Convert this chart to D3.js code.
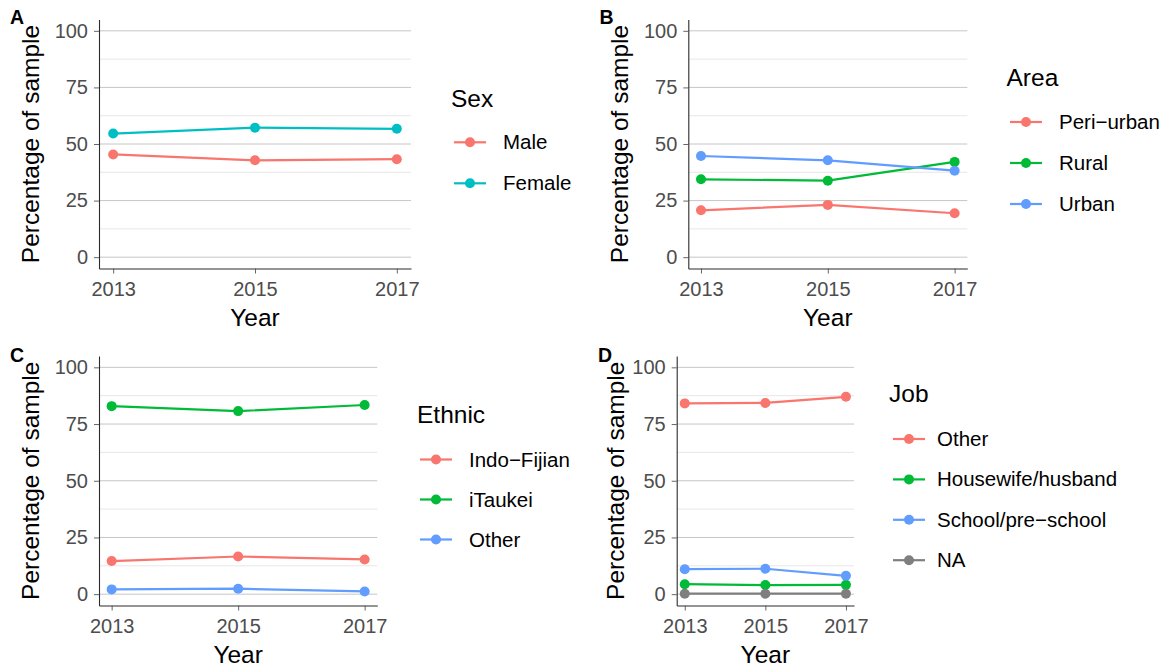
<!DOCTYPE html>
<html>
<head>
<meta charset="utf-8">
<script src="https://cdn.jsdelivr.net/npm/d3@7/dist/d3.min.js"></script>
<style>
  html, body { margin: 0; padding: 0; background: #ffffff; }
  svg { display: block; font-family: "Liberation Sans", Arial, Helvetica, sans-serif; }
</style>
</head>
<body>
<svg id="chart" width="1164" height="668"></svg>
<script>
// Survey years and axis ticks
const years = [2013, 2015, 2017];
const yTicks = [0, 25, 50, 75, 100];
const yMinor = [12.5, 37.5, 62.5, 87.5];

// A: sex
const sexLevels = ["Male", "Female"];
const sexMale   = [45.4, 42.8, 43.3];
const sexFemale = [54.6, 57.2, 56.7];

// B: area
const areaLevels    = ["Peri\u2212urban", "Rural", "Urban"];
const areaPeriUrban = [20.7, 23.1, 19.4];
const areaRural     = [34.4, 33.8, 42.1];
const areaUrban     = [44.7, 42.8, 38.2];

// C: ethnicity
const ethnicLevels     = ["Indo\u2212Fijian", "iTaukei", "Other"];
const ethnicIndoFijian = [14.6, 16.6, 15.3];
const ethnicITaukei    = [82.9, 80.7, 83.4];
const ethnicOther      = [2.1, 2.4, 1.2];

// D: job
const jobLevels    = ["Other", "Housewife/husband", "School/pre\u2212school", "NA"];
const jobOther     = [84.1, 84.3, 87.0];
const jobHousewife = [4.4, 4.0, 4.1];
const jobSchool    = [11.0, 11.2, 8.1];
const jobNA        = [0.2, 0.2, 0.2];

// ggplot2 default hue palette
const hue2 = ["#F8766D", "#00BFC4"];
const hue3 = ["#F8766D", "#00BA38", "#619CFF"];
const naGrey = "#7F7F7F";

const panels = [
  { tag: "A", tagX: 10, tagY: 24, title: "Sex", levels: sexLevels, series: [sexMale, sexFemale], colors: hue2,
    box: { x0: 99, x1: 411, y0: 19.5, y1: 268.5 }, ytitleX: 39,
    legend: { titleX: 451, titleY: 106.5, keyX: 454, labelX: 503, firstY: 142.3, step: 41 } },
  { tag: "B", tagX: 599.5, tagY: 24, title: "Area", levels: areaLevels, series: [areaPeriUrban, areaRural, areaUrban], colors: hue3,
    box: { x0: 688.3, x1: 967.3, y0: 19.5, y1: 268.5 }, ytitleX: 628,
    legend: { titleX: 1006.5, titleY: 86, keyX: 1010, labelX: 1059, firstY: 122, step: 41 } },
  { tag: "C", tagX: 10, tagY: 361.5, title: "Ethnic", levels: ethnicLevels, series: [ethnicIndoFijian, ethnicITaukei, ethnicOther], colors: hue3,
    box: { x0: 99, x1: 377.3, y0: 356, y1: 605.5 }, ytitleX: 39,
    legend: { titleX: 417, titleY: 423, keyX: 420, labelX: 469, firstY: 459.5, step: 40 } },
  { tag: "D", tagX: 598, tagY: 361.5, title: "Job", levels: jobLevels, series: [jobOther, jobHousewife, jobSchool, jobNA],
    colors: hue3.concat([naGrey]),
    box: { x0: 676.7, x1: 854, y0: 356, y1: 605.5 }, ytitleX: 624,
    legend: { titleX: 889, titleY: 402, keyX: 893, labelX: 937, firstY: 439, step: 40.4 } }
];

const svg = d3.select("#chart");

panels.forEach(p => {
  const b = p.box;
  const g = svg.append("g");

  // Scales with ggplot-style 5% expansion
  const x = d3.scaleLinear().domain([2012.8, 2017.2]).range([b.x0, b.x1]);
  const y = d3.scaleLinear().domain([-5, 105]).range([b.y1, b.y0]);

  // Minor then major gridlines
  g.append("g").selectAll("line").data(yMinor).join("line")
    .attr("x1", b.x0).attr("x2", b.x1)
    .attr("y1", d => y(d)).attr("y2", d => y(d))
    .attr("stroke", "#E4E4E4").attr("stroke-width", 0.9);
  g.append("g").selectAll("line").data(yTicks).join("line")
    .attr("x1", b.x0).attr("x2", b.x1)
    .attr("y1", d => y(d)).attr("y2", d => y(d))
    .attr("stroke", "#C6C6C6").attr("stroke-width", 1);

  // Axes
  const yAxis = g.append("g").attr("transform", `translate(${b.x0},0)`)
    .call(d3.axisLeft(y).tickValues(yTicks).tickSize(5).tickSizeOuter(0).tickPadding(6));
  const xAxis = g.append("g").attr("transform", `translate(0,${b.y1})`)
    .call(d3.axisBottom(x).tickValues(years).tickFormat(d3.format("d")).tickSize(5).tickSizeOuter(0).tickPadding(8));
  [yAxis, xAxis].forEach(ax => {
    ax.select(".domain").attr("stroke", "#2b2b2b").attr("stroke-width", 1.1);
    ax.selectAll(".tick line").attr("stroke", "#555").attr("stroke-width", 0.9);
    ax.selectAll(".tick text").attr("fill", "#4D4D4D").attr("font-size", 20)
      .attr("font-family", "Liberation Sans, Arial, sans-serif");
  });

  // Axis titles
  g.append("text")
    .attr("transform", `translate(${p.ytitleX},${(b.y0 + b.y1) / 2}) rotate(-90)`)
    .attr("text-anchor", "middle").attr("font-size", 24.5).attr("fill", "#000")
    .text("Percentage of sample");
  g.append("text")
    .attr("x", (b.x0 + b.x1) / 2).attr("y", b.y1 + 57)
    .attr("text-anchor", "middle").attr("font-size", 24.5).attr("fill", "#000")
    .text("Year");

  // Series lines and points
  const line = d3.line().x((d, i) => x(years[i])).y(d => y(d));
  p.series.forEach((vals, k) => {
    g.append("path").datum(vals)
      .attr("d", line).attr("fill", "none")
      .attr("stroke", p.colors[k]).attr("stroke-width", 2.2);
    g.append("g").selectAll("circle").data(vals).join("circle")
      .attr("cx", (d, i) => x(years[i])).attr("cy", d => y(d)).attr("r", 5)
      .attr("fill", p.colors[k]);
  });

  // Panel tag
  g.append("text")
    .attr("x", p.tagX).attr("y", p.tagY)
    .attr("font-size", 19.5).attr("font-weight", "bold").attr("fill", "#000")
    .text(p.tag);

  // Legend
  const L = p.legend;
  g.append("text").attr("x", L.titleX).attr("y", L.titleY)
    .attr("font-size", 24.5).attr("fill", "#000").text(p.title);
  p.levels.forEach((lab, k) => {
    const cy = L.firstY + k * L.step;
    g.append("line").attr("x1", L.keyX).attr("x2", L.keyX + 32)
      .attr("y1", cy).attr("y2", cy)
      .attr("stroke", p.colors[k]).attr("stroke-width", 2.2);
    g.append("circle").attr("cx", L.keyX + 16).attr("cy", cy).attr("r", 5)
      .attr("fill", p.colors[k]);
    g.append("text").attr("x", L.labelX).attr("y", cy + 7)
      .attr("font-size", 20.5).attr("fill", "#000").text(lab);
  });
});
</script>
</body>
</html>
